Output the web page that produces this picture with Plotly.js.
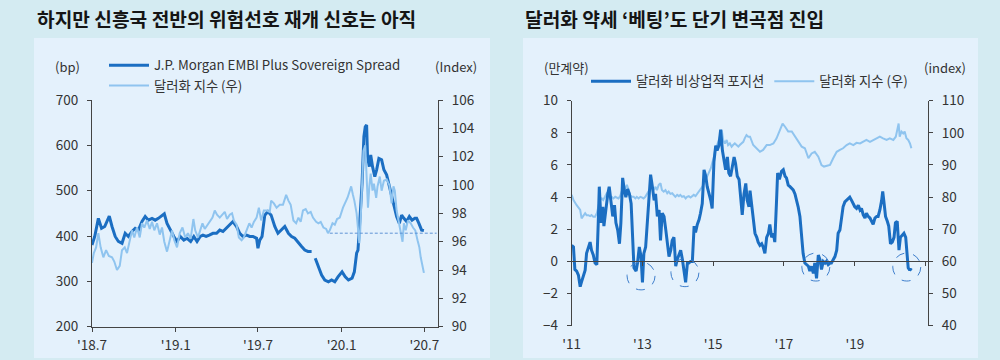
<!DOCTYPE html>
<html><head><meta charset="utf-8">
<script src="https://cdn.plot.ly/plotly-3.0.1.min.js"></script>
<style>html,body{margin:0;padding:0;background:#d4ebf2;} #chart{width:1000px;height:360px;}</style>
</head><body><div id="chart"></div>
<script>
// ---------- Left chart: EMBI spread (bp) & dollar index ----------
const embiDates = ['2018-07-01','2018-07-07','2018-07-15','2018-07-22','2018-07-29','2018-08-08','2018-08-14','2018-08-21','2018-08-28','2018-09-05','2018-09-12','2018-09-19','2018-09-27','2018-10-04','2018-10-11','2018-10-19','2018-10-26','2018-11-02','2018-11-10','2018-11-17','2018-11-24','2018-12-02','2018-12-07','2018-12-13','2018-12-20','2018-12-28','2019-01-04','2019-01-11','2019-01-19','2019-01-26','2019-02-03','2019-02-10','2019-02-17','2019-02-24','2019-03-02','2019-03-09','2019-03-16','2019-03-24','2019-04-01','2019-04-08','2019-04-15','2019-04-22','2019-04-30','2019-05-07','2019-05-15','2019-05-22','2019-05-29','2019-06-06','2019-06-13','2019-06-20','2019-06-28','2019-07-01','2019-07-05','2019-07-10','2019-07-16','2019-07-23','2019-07-30','2019-08-07','2019-08-14','2019-08-22','2019-08-29','2019-09-06','2019-09-13','2019-09-20','2019-09-28','2019-10-05','2019-10-12','2019-10-19','2019-10-27','2019-10-31','2019-11-04','2019-11-11','2019-11-18','2019-11-25','2019-12-03','2019-12-10','2019-12-17','2019-12-24','2020-01-02','2020-01-09','2020-01-16','2020-01-24','2020-01-29','2020-02-03','2020-02-06','2020-02-08','2020-02-12','2020-02-15','2020-02-19','2020-02-22','2020-02-25','2020-02-27','2020-03-02','2020-03-05','2020-03-09','2020-03-14','2020-03-18','2020-03-23','2020-03-29','2020-04-03','2020-04-09','2020-04-15','2020-04-20','2020-04-25','2020-05-01','2020-05-07','2020-05-12','2020-05-17','2020-05-23','2020-05-29','2020-06-04','2020-06-10','2020-06-14','2020-06-19','2020-06-25','2020-06-30'];
const embiSpread = [380,399,439,417,421,444,421,399,388,384,406,399,410,417,413,432,443,435,439,435,439,444,449,428,413,399,388,399,391,395,388,399,388,399,402,399,402,406,406,413,410,417,424,432,421,406,399,402,399,399,395,373,391,399,446,454,446,421,406,413,421,406,399,395,384,377,369,366,366,null,351,333,314,303,299,303,299,310,321,310,303,307,321,362,369,399,457,516,619,641,645,575,553,579,553,531,546,571,568,546,535,509,487,465,443,428,446,439,432,443,435,439,439,428,413,412];

const dxyDatesL = ['2018-07-01','2018-07-05','2018-07-10','2018-07-15','2018-07-20','2018-07-26','2018-08-01','2018-08-07','2018-08-14','2018-08-19','2018-08-25','2018-08-31','2018-09-05','2018-09-11','2018-09-16','2018-09-22','2018-09-27','2018-10-02','2018-10-08','2018-10-14','2018-10-19','2018-10-24','2018-10-30','2018-11-05','2018-11-10','2018-11-15','2018-11-21','2018-11-27','2018-12-02','2018-12-07','2018-12-13','2018-12-19','2018-12-24','2018-12-29','2019-01-04','2019-01-10','2019-01-16','2019-01-22','2019-01-28','2019-02-03','2019-02-09','2019-02-13','2019-02-19','2019-02-24','2019-03-01','2019-03-06','2019-03-12','2019-03-17','2019-03-23','2019-03-28','2019-04-02','2019-04-08','2019-04-14','2019-04-19','2019-04-24','2019-04-30','2019-05-05','2019-05-09','2019-05-15','2019-05-20','2019-05-26','2019-05-31','2019-06-06','2019-06-12','2019-06-17','2019-06-22','2019-06-28','2019-07-03','2019-07-08','2019-07-14','2019-07-21','2019-07-27','2019-07-30','2019-08-05','2019-08-11','2019-08-18','2019-08-25','2019-09-01','2019-09-06','2019-09-11','2019-09-17','2019-09-23','2019-09-28','2019-10-03','2019-10-08','2019-10-14','2019-10-19','2019-10-25','2019-10-30','2019-11-06','2019-11-11','2019-11-16','2019-11-22','2019-11-28','2019-12-02','2019-12-06','2019-12-12','2019-12-17','2019-12-22','2019-12-28','2020-01-04','2020-01-09','2020-01-14','2020-01-18','2020-01-22','2020-01-26','2020-01-29','2020-02-03','2020-02-06','2020-02-09','2020-02-11','2020-02-15','2020-02-18','2020-02-22','2020-02-25','2020-02-28','2020-03-02','2020-03-05','2020-03-09','2020-03-12','2020-03-17','2020-03-20','2020-03-25','2020-03-29','2020-04-03','2020-04-09','2020-04-15','2020-04-20','2020-04-24','2020-04-27','2020-05-01','2020-05-06','2020-05-10','2020-05-14','2020-05-17','2020-05-21','2020-05-26','2020-06-01','2020-06-06','2020-06-11','2020-06-16','2020-06-20','2020-06-23','2020-06-27','2020-06-30'];
const dxyLeft = [94.5,95.2,95.6,96.6,95.6,94.9,95.4,95.0,94.9,94.6,94.0,94.3,95.4,95.6,95.2,96.1,96.8,96.3,97.0,96.3,97.3,97.0,97.5,96.9,97.4,96.8,97.3,96.5,97.0,96.0,95.3,96.1,96.8,96.1,95.6,96.6,97.0,96.3,96.6,96.2,97.6,96.8,96.3,96.8,97.3,96.9,97.2,97.4,97.7,98.2,97.9,97.7,97.9,98.1,97.6,97.9,98.0,97.5,97.2,96.3,96.1,96.3,96.8,97.3,97.0,97.4,97.7,98.4,97.5,98.2,98.2,98.1,98.9,98.7,98.4,98.6,98.6,99.3,98.9,98.6,97.5,97.3,97.7,97.4,98.2,98.3,98.0,98.1,97.7,97.4,97.3,97.4,97.0,96.9,96.6,96.8,97.3,97.2,97.6,97.7,98.4,98.7,99.1,99.5,99.9,99.3,98.9,98.0,96.8,95.9,96.8,100.6,102.4,102.8,100.1,98.4,99.9,100.8,99.6,100.1,99.1,99.9,100.6,99.6,100.3,100.4,100.0,98.7,99.9,99.6,98.2,97.3,96.6,96.0,97.3,96.8,97.5,97.3,97.0,96.8,96.1,95.6,94.9,94.2,93.8];

const refDates = ['2019-12-06','2020-07-28'];
const refLevel = [96.6, 96.6];

const leftTickDates = ['2018-07-01','2019-01-01','2019-07-01','2020-01-01','2020-07-01'];
const leftTickText = ["'18.7","'19.1","'19.7","'20.1","'20.7"];

// ---------- Right chart: non-commercial USD positions & dollar index ----------
const posYear = [2011.00,2011.05,2011.09,2011.14,2011.19,2011.24,2011.28,2011.33,2011.38,2011.42,2011.47,2011.52,2011.56,2011.61,2011.66,2011.71,2011.75,2011.78,2011.83,2011.88,2011.91,2011.97,2012.02,2012.06,2012.11,2012.16,2012.21,2012.25,2012.30,2012.35,2012.39,2012.44,2012.49,2012.53,2012.58,2012.63,2012.68,2012.72,2012.76,2012.82,2012.86,2012.91,2012.96,2013.00,2013.04,2013.09,2013.14,2013.18,2013.23,2013.28,2013.33,2013.37,2013.42,2013.47,2013.51,2013.56,2013.61,2013.66,2013.70,2013.75,2013.80,2013.84,2013.89,2013.94,2013.98,2014.03,2014.08,2014.13,2014.17,2014.22,2014.27,2014.31,2014.36,2014.41,2014.46,2014.50,2014.55,2014.60,2014.64,2014.69,2014.74,2014.79,2014.83,2014.88,2014.93,2014.97,2015.02,2015.07,2015.11,2015.16,2015.21,2015.26,2015.30,2015.35,2015.40,2015.44,2015.49,2015.54,2015.59,2015.63,2015.68,2015.73,2015.77,2015.82,2015.87,2015.92,2015.96,2016.01,2016.04,2016.08,2016.13,2016.18,2016.23,2016.27,2016.32,2016.37,2016.41,2016.46,2016.51,2016.56,2016.60,2016.65,2016.70,2016.74,2016.79,2016.82,2016.87,2016.93,2016.98,2017.03,2017.07,2017.12,2017.17,2017.22,2017.26,2017.31,2017.36,2017.40,2017.45,2017.50,2017.54,2017.59,2017.64,2017.69,2017.73,2017.78,2017.83,2017.87,2017.92,2017.97,2018.02,2018.06,2018.11,2018.16,2018.20,2018.25,2018.30,2018.34,2018.39,2018.44,2018.49,2018.53,2018.58,2018.63,2018.67,2018.72,2018.77,2018.82,2018.86,2018.91,2018.96,2019.00,2019.05,2019.10,2019.15,2019.19,2019.24,2019.29,2019.33,2019.38,2019.43,2019.47,2019.52,2019.57,2019.62,2019.66,2019.71,2019.76,2019.79,2019.82,2019.87,2019.92,2019.96,2020.01,2020.06,2020.11,2020.15,2020.20,2020.25,2020.29,2020.34,2020.39,2020.44,2020.48,2020.51,2020.54,2020.58,2020.61];
const posValue = [1.0,0.9,-0.5,-0.6,-0.85,-1.57,-1.26,-0.95,-0.54,0.5,0.9,1.2,0.7,0.4,-0.1,-0.2,2.4,4.65,2.4,3.4,2.2,3.4,4.2,4.65,3.6,2.8,3.5,2.4,1.95,1.1,2.4,5.2,4.4,4.0,4.5,4.2,3.6,1.3,-0.4,-0.6,-0.1,0.9,0.3,-1.3,0.5,0.9,2.4,3.6,5.4,4.65,3.8,4.2,2.8,3.2,1.3,3.0,2.8,1.95,1.1,0.3,0.7,1.3,1.5,-0.3,0.1,0.4,0.7,0.1,-0.5,-1.3,-0.1,-0.1,0.0,0.0,2.2,1.8,2.3,2.6,3.0,3.6,5.7,5.3,4.65,4.3,3.8,3.3,6.2,7.2,6.9,7.2,8.2,6.9,6.4,5.7,6.5,5.5,5.3,5.9,6.5,6.1,5.3,5.1,4.0,2.9,4.2,4.85,3.8,3.4,4.4,3.6,3.0,1.75,1.5,1.2,1.0,1.1,0.9,0.5,1.5,1.75,2.3,1.5,1.75,1.2,3.8,5.5,5.1,5.6,5.7,5.3,5.2,4.75,4.65,4.55,4.45,4.2,3.8,3.4,2.8,1.5,0.5,-0.1,-0.2,-0.3,-0.6,-0.3,-0.75,-0.1,-1.05,0.4,0.1,-0.5,0.0,-0.1,0.0,-0.2,-0.1,-0.1,0.1,0.3,0.7,1.75,1.95,2.8,3.4,3.7,3.8,3.9,4.0,3.8,3.6,3.4,3.3,3.5,3.2,3.3,2.9,2.7,3.0,2.8,2.7,2.5,2.3,2.7,2.8,2.8,3.2,3.8,4.35,3.8,2.8,2.5,2.2,1.1,1.2,1.5,2.4,2.5,0.7,1.5,1.6,1.75,1.5,0.5,-0.4,-0.5,-0.5,-0.55];

const dxyYear = [2011.00,2011.05,2011.14,2011.24,2011.28,2011.33,2011.38,2011.42,2011.47,2011.52,2011.56,2011.61,2011.66,2011.71,2011.75,2011.80,2011.85,2011.89,2011.94,2011.99,2012.04,2012.08,2012.13,2012.18,2012.23,2012.27,2012.32,2012.37,2012.42,2012.46,2012.51,2012.56,2012.61,2012.65,2012.70,2012.75,2012.80,2012.84,2012.89,2012.94,2012.98,2013.03,2013.08,2013.13,2013.18,2013.22,2013.27,2013.32,2013.37,2013.41,2013.46,2013.51,2013.55,2013.60,2013.65,2013.70,2013.74,2013.79,2013.84,2013.88,2013.93,2013.98,2014.03,2014.07,2014.12,2014.17,2014.22,2014.26,2014.31,2014.36,2014.41,2014.45,2014.50,2014.55,2014.60,2014.64,2014.69,2014.74,2014.78,2014.83,2014.88,2014.93,2014.97,2015.02,2015.07,2015.11,2015.16,2015.21,2015.24,2015.28,2015.33,2015.38,2015.42,2015.47,2015.52,2015.56,2015.61,2015.66,2015.71,2015.75,2015.80,2015.85,2015.89,2015.94,2015.99,2016.04,2016.13,2016.23,2016.32,2016.41,2016.51,2016.60,2016.70,2016.79,2016.89,2016.96,2017.03,2017.12,2017.22,2017.31,2017.40,2017.50,2017.59,2017.69,2017.78,2017.87,2017.97,2018.06,2018.13,2018.20,2018.30,2018.39,2018.49,2018.58,2018.67,2018.77,2018.86,2018.96,2019.05,2019.15,2019.24,2019.33,2019.43,2019.52,2019.62,2019.71,2019.80,2019.90,2019.99,2020.09,2020.16,2020.20,2020.24,2020.27,2020.32,2020.37,2020.41,2020.46,2020.51,2020.56,2020.60];
const dxyRight = [80.7,79.1,77.5,76.0,73.4,74.4,75.0,74.4,74.4,74.1,74.4,73.9,73.9,75.0,77.0,79.1,79.6,79.1,80.1,81.2,80.7,79.6,80.1,79.6,80.1,79.9,79.6,80.3,82.2,83.2,82.7,83.8,82.2,80.7,80.1,80.1,79.6,80.1,79.6,80.1,79.9,79.6,80.1,81.2,82.2,82.7,83.2,82.2,83.2,82.2,83.8,84.3,82.2,81.7,82.2,81.2,81.7,81.0,81.2,80.7,80.1,80.7,80.3,80.7,80.1,80.3,79.6,80.1,80.3,79.9,80.3,80.7,80.3,81.0,81.7,82.2,83.2,84.3,85.3,86.6,87.4,88.9,90.5,92.6,95.7,96.2,97.8,99.8,100.9,97.8,96.7,97.8,96.2,96.7,95.7,96.2,96.7,96.2,95.7,96.2,96.7,97.2,98.3,99.3,98.8,98.8,96.2,95.2,94.1,94.7,96.2,96.2,96.7,98.3,101.4,102.9,101.9,100.4,100.4,98.8,97.2,95.7,95.2,92.1,93.6,94.1,92.6,90.0,89.5,89.7,90.0,92.1,94.1,94.7,95.2,96.2,96.7,96.2,96.9,96.7,97.2,97.8,97.2,97.8,98.3,98.8,98.3,97.8,98.3,97.8,98.8,101.4,102.9,98.8,100.4,99.8,100.4,98.3,97.8,96.7,95.2];

const rightTickYears = [2011, 2013, 2015, 2017, 2019];
const rightTickText = ["'11", "'13", "'15", "'17", "'19"];
const zeroAxisTicks = [2011, 2013, 2015, 2017, 2019, 2021];

// dashed circles marking turning points (year, level on left axis)
const circleYears = [2012.96, 2014.20, 2017.90, 2020.47];
const circleLevels = [-0.9, -0.7, -0.35, -0.35];

// ---------- styling ----------
const DARK = '#1b6ec2';
const LIGHT = '#8fc4ef';
const AXC = '#444444';
const TXT = '#333333';
const FONT = "'Noto Sans CJK KR', 'Noto Sans', sans-serif";

const H = 360, W = 1000;
const px = v => v / W;
const py = v => (H - v) / H;

const traces = [
  {x: dxyDatesL, y: dxyLeft, xaxis: 'x', yaxis: 'y2', type: 'scatter', mode: 'lines',
   name: '달러화 지수 (우)', legend: 'legend', legendrank: 2, line: {color: LIGHT, width: 2}, hoverinfo: 'skip'},
  {x: refDates, y: refLevel, xaxis: 'x', yaxis: 'y2', type: 'scatter', mode: 'lines',
   showlegend: false, line: {color: '#5f93d6', width: 1, dash: '3px,2px'}, hoverinfo: 'skip'},
  {x: embiDates, y: embiSpread, xaxis: 'x', yaxis: 'y', type: 'scatter', mode: 'lines', connectgaps: false,
   name: 'J.P. Morgan EMBI Plus Sovereign Spread', legend: 'legend', legendrank: 1, line: {color: DARK, width: 3}, hoverinfo: 'skip'},
  {x: dxyYear, y: dxyRight, xaxis: 'x2', yaxis: 'y4', type: 'scatter', mode: 'lines',
   name: '달러화 지수 (우)', legend: 'legend2', legendrank: 2, line: {color: LIGHT, width: 2}, hoverinfo: 'skip'},
  {x: posYear, y: posValue, xaxis: 'x3', yaxis: 'y3', type: 'scatter', mode: 'lines',
   name: '달러화 비상업적 포지션', legend: 'legend2', legendrank: 1, line: {color: DARK, width: 3}, hoverinfo: 'skip'}
];

const axBase = {showgrid: false, zeroline: false, showline: true, linecolor: AXC, linewidth: 1,
  ticks: 'outside', ticklen: 4, tickcolor: AXC, tickwidth: 1, ticklabelstandoff: 6,
  tickfont: {family: FONT, size: 13.5, color: TXT}, fixedrange: true};

const yLeftDom = [py(326.7), py(100)];
const yRightDom = [py(325.7), py(100.7)];

const shapes = [
  {type: 'rect', xref: 'paper', yref: 'paper', x0: px(34), x1: px(490), y0: py(358), y1: py(38),
   fillcolor: '#e4f1fc', line: {width: 0}, layer: 'below'},
  {type: 'rect', xref: 'paper', yref: 'paper', x0: px(523), x1: px(978), y0: py(358), y1: py(38),
   fillcolor: '#e4f1fc', line: {width: 0}, layer: 'below'}
];
circleYears.forEach((cy, i) => {
  shapes.push({type: 'circle', xref: 'x2', yref: 'y3', xsizemode: 'pixel', ysizemode: 'pixel',
    xanchor: cy, yanchor: circleLevels[i], x0: -14, x1: 14, y0: -14, y1: 14,
    line: {color: '#3f7fcc', width: 1, dash: 'dash'}, fillcolor: 'rgba(0,0,0,0)'});
});

const ann = (text, x, y, opts) => Object.assign({text, x: px(x), y: py(y), xref: 'paper', yref: 'paper',
  showarrow: false, xanchor: 'center', yanchor: 'middle', font: {family: FONT, size: 13, color: TXT}}, opts || {});

const layout = {
  width: W, height: H,
  margin: {l: 0, r: 0, t: 0, b: 0},
  paper_bgcolor: '#d4ebf2', plot_bgcolor: 'rgba(0,0,0,0)',
  font: {family: FONT, color: TXT},
  xaxis: Object.assign({}, axBase, {domain: [px(92), px(438)], anchor: 'y', type: 'date', ticklabelstandoff: 2,
    range: ['2018-07-01', '2020-07-31'], tickmode: 'array', tickvals: leftTickDates, ticktext: leftTickText}),
  yaxis: Object.assign({}, axBase, {domain: yLeftDom, anchor: 'x', range: [200, 700], dtick: 100, tick0: 200}),
  yaxis2: Object.assign({}, axBase, {overlaying: 'y', side: 'right', anchor: 'x', range: [90, 106], dtick: 2, tick0: 90}),
  xaxis2: Object.assign({}, axBase, {domain: [px(571.7), px(928)], anchor: 'y3', range: [2011, 2021.07], ticklabelstandoff: 2,
    showline: false, tickcolor: 'rgba(0,0,0,0)', tickmode: 'array', tickvals: rightTickYears, ticktext: rightTickText}),
  xaxis3: Object.assign({}, axBase, {overlaying: 'x2', anchor: 'free', position: yRightDom[0] + (4 / 14) * (yRightDom[1] - yRightDom[0]),
    range: [2011, 2021.07], tickmode: 'array', tickvals: zeroAxisTicks, showticklabels: false}),
  yaxis3: Object.assign({}, axBase, {domain: yRightDom, anchor: 'x2', range: [-4, 10], dtick: 2, tick0: -4,
    zeroline: true, zerolinecolor: AXC, zerolinewidth: 1}),
  yaxis4: Object.assign({}, axBase, {overlaying: 'y3', side: 'right', anchor: 'x2', range: [40, 110], dtick: 10, tick0: 40}),
  legend: {x: px(104), y: py(50), xanchor: 'left', yanchor: 'top', orientation: 'v', bgcolor: 'rgba(0,0,0,0)',
    font: {family: FONT, size: 13.3, color: TXT}, itemwidth: 40, tracegroupgap: 0, traceorder: 'normal'},
  legend2: {x: px(586), y: py(66), xanchor: 'left', yanchor: 'top', orientation: 'h', bgcolor: 'rgba(0,0,0,0)',
    font: {family: FONT, size: 13.3, color: TXT}, itemwidth: 40},
  shapes: shapes,
  annotations: [
    ann('하지만 신흥국 전반의 위험선호 재개 신호는 아직', 35, 19, {xanchor: 'left', font: {family: FONT, size: 19.2, color: '#151515', weight: 'bold'}}),
    ann('달러화 약세 ‘베팅’도 단기 변곡점 진입', 523, 19, {xanchor: 'left', font: {family: FONT, size: 19.2, color: '#151515', weight: 'bold'}}),
    ann('(bp)', 67, 66),
    ann('(Index)', 456, 66),
    ann('(만계약)', 566, 67),
    ann('(index)', 945, 67)
  ],
  showlegend: true
};

Plotly.newPlot('chart', traces, layout, {displayModeBar: false, staticPlot: true});
</script></body></html>
